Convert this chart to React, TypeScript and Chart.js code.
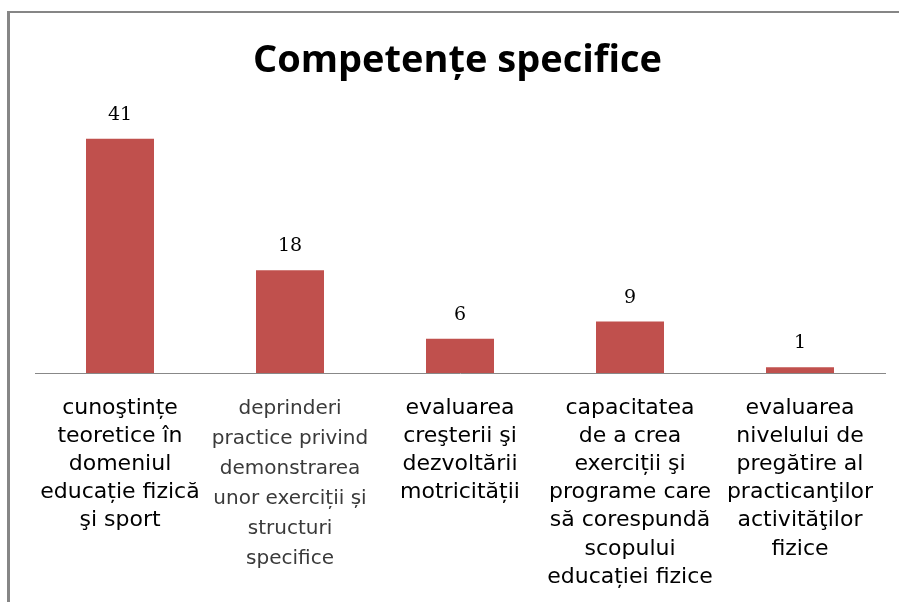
import React, { useEffect, useRef } from "react";
import { Chart, registerables } from "chart.js";

Chart.register(...registerables);

const TITLE = "Competențe specifice";
const categories: string[][] = [
  ["cunoştințe", "teoretice în", "domeniul", "educație fizică", "şi sport"],
  ["deprinderi", "practice privind", "demonstrarea", "unor exerciții și", "structuri", "specifice"],
  ["evaluarea", "creşterii şi", "dezvoltării", "motricității"],
  ["capacitatea", "de a crea", "exerciții şi", "programe care", "să corespundă", "scopului", "educației fizice"],
  ["evaluarea", "nivelului de", "pregătire al", "practicanţilor", "activităţilor", "fizice"],
];
const values: number[] = [41, 18, 6, 9, 1];

const valueLabels = {
  id: "valueLabels",
  afterDatasetsDraw(chart: any) {
    const ctx = chart.ctx;
    const meta = chart.getDatasetMeta(0);
    ctx.save();
    ctx.font = "19px 'DejaVu Serif'";
    ctx.fillStyle = "#000";
    ctx.textAlign = "center";
    ctx.textBaseline = "middle";
    meta.data.forEach((bar: any, i: number) => {
      ctx.fillText(String(values[i]), bar.x, bar.y - 24);
    });
    ctx.restore();
  },
};

export default function App() {
  const ref = useRef<HTMLCanvasElement>(null);
  useEffect(() => {
    if (!ref.current) return;
    const chart = new Chart(ref.current, {
      type: "bar",
      data: {
        labels: categories,
        datasets: [
          {
            data: values,
            backgroundColor: "#C0504D",
            barPercentage: 0.4,
            categoryPercentage: 1,
          },
        ],
      },
      options: {
        animation: false,
        responsive: true,
        maintainAspectRatio: false,
        layout: { padding: { left: 30, right: 14, top: 0, bottom: 0 } },
        plugins: {
          legend: { display: false },
          tooltip: { enabled: false },
          title: {
            display: true,
            text: TITLE,
            color: "#000",
            font: { family: "'Open Sans'", size: 38, weight: "bold", lineHeight: 1.2 },
            padding: { top: 38, bottom: 32.4 },
          },
        },
        scales: {
          x: {
            grid: { display: false, drawTicks: false },
            border: { display: true, color: "#888888", width: 1 },
            ticks: {
              autoSkip: false,
              maxRotation: 0,
              minRotation: 0,
              padding: 21,
              color: (c: any) => (c.index === 1 ? "#3a3a3a" : "#000"),
              font: (c: any) =>
                c.index === 1
                  ? { family: "'DejaVu Sans'", size: 20, lineHeight: 1.5 }
                  : { family: "'DejaVu Sans'", size: 22, lineHeight: 1.28 },
            },
            afterFit: (s: any) => {
              s.height = 229;
            },
          },
          y: {
            min: 0,
            max: 45,
            grid: { display: false, drawTicks: false },
            border: { display: false },
            ticks: { display: false },
            afterFit: (s: any) => {
              s.width = 5;
            },
          },
        },
      },
      plugins: [valueLabels],
    });
    return () => chart.destroy();
  }, []);

  return (
    <div
      style={{
        position: "fixed",
        left: 0,
        top: 0,
        width: 899,
        height: 602,
        overflow: "hidden",
        background: "#fff",
      }}
    >
      <div
        style={{
          position: "absolute",
          left: 7,
          top: 11,
          width: 2000,
          height: 2000,
          borderTop: "2px solid #868686",
          borderLeft: "3px solid #868686",
        }}
      />
      <div style={{ position: "absolute", left: 0, top: 0, width: 899, height: 602 }}>
        <canvas ref={ref} />
      </div>
    </div>
  );
}
